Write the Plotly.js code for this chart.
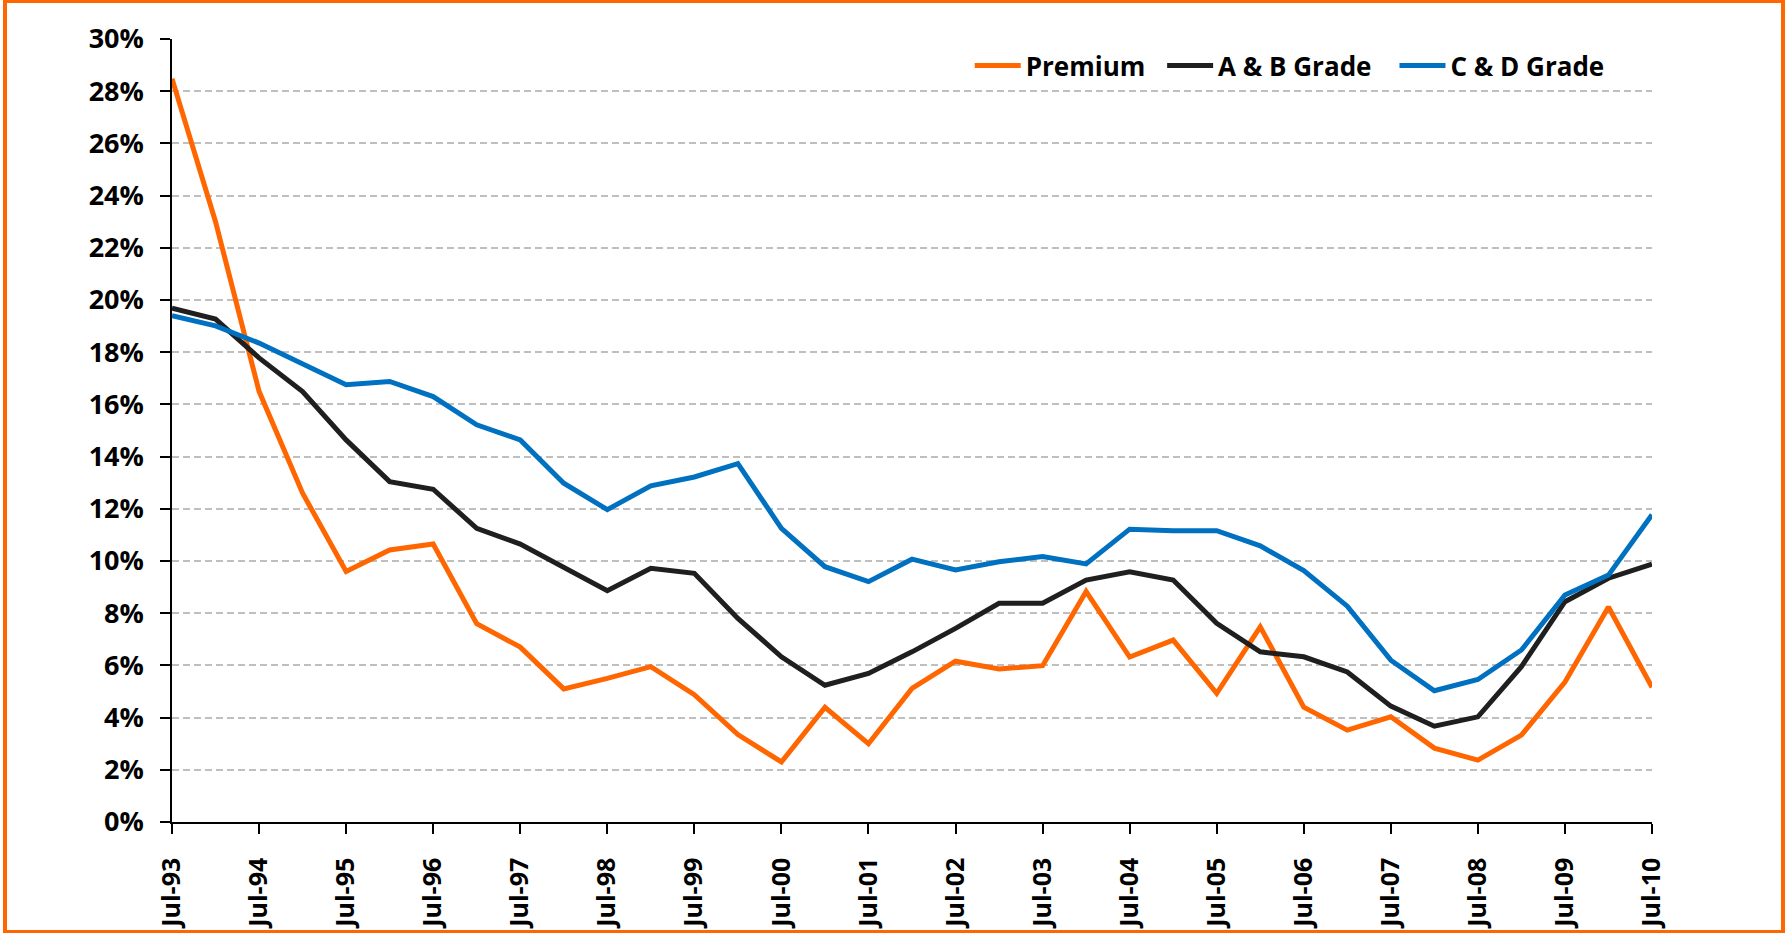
<!DOCTYPE html>
<html>
<head>
<meta charset="utf-8">
<script src="https://cdn.plot.ly/plotly-3.0.1.min.js"></script>
<style>
  html, body { margin: 0; padding: 0; background: #ffffff; }
  #chart { width: 1789px; height: 933px; }
  #frame { position: absolute; left: 3px; top: -1px; width: 1774px; height: 927px; border: 4px solid #FF6600; pointer-events: none; }
</style>
</head>
<body>
<div id="chart"></div>
<div id="frame"></div>
<script>
const categories = ["Jul-93","Jan-94","Jul-94","Jan-95","Jul-95","Jan-96","Jul-96","Jan-97","Jul-97","Jan-98",
  "Jul-98","Jan-99","Jul-99","Jan-00","Jul-00","Jan-01","Jul-01","Jan-02","Jul-02","Jan-03",
  "Jul-03","Jan-04","Jul-04","Jan-05","Jul-05","Jan-06","Jul-06","Jan-07","Jul-07","Jan-08",
  "Jul-08","Jan-09","Jul-09","Jan-10","Jul-10"];
const tickLabels = ["Jul-93","Jul-94","Jul-95","Jul-96","Jul-97","Jul-98","Jul-99","Jul-00","Jul-01",
  "Jul-02","Jul-03","Jul-04","Jul-05","Jul-06","Jul-07","Jul-08","Jul-09","Jul-10"];

const premium = [28.48, 23.0, 16.5, 12.6, 9.6, 10.42, 10.65, 7.6, 6.7, 5.1,
  5.5, 5.95, 4.88, 3.35, 2.3, 4.39, 3.0, 5.12, 6.16, 5.86,
  5.99, 8.83, 6.32, 6.97, 4.93, 7.48, 4.4, 3.52, 4.03, 2.83,
  2.37, 3.33, 5.36, 8.24, 5.16];
const gradeAB = [19.69, 19.27, 17.78, 16.49, 14.64, 13.04, 12.75, 11.25, 10.65, 9.77,
  8.86, 9.72, 9.53, 7.80, 6.33, 5.24, 5.69, 6.52, 7.42, 8.38,
  8.38, 9.27, 9.59, 9.27, 7.61, 6.52, 6.33, 5.75, 4.44, 3.67,
  4.03, 5.95, 8.44, 9.34, 9.88];
const gradeCD = [19.40, 19.01, 18.35, 17.54, 16.75, 16.88, 16.30, 15.22, 14.64, 12.98,
  11.97, 12.88, 13.22, 13.73, 11.25, 9.78, 9.21, 10.07, 9.66, 9.97,
  10.17, 9.89, 11.22, 11.16, 11.16, 10.58, 9.63, 8.27, 6.20, 5.03,
  5.46, 6.59, 8.70, 9.46, 11.77];

const seriesNames = ["Premium", "A & B Grade", "C & D Grade"];
const seriesColors = ["#FF6600", "#1F1F1F", "#0070C0"];
const seriesData = [premium, gradeAB, gradeCD];
const legendIds = ["legend", "legend2", "legend3"];
const legendX = [0.539, 0.669, 0.826];

const legendFont = {family: "Open Sans, sans-serif", size: 26, color: "#000000", weight: 700};

const traces = seriesData.map((vals, i) => ({
  type: "scatter",
  mode: "lines",
  name: seriesNames[i],
  x: categories,
  y: vals,
  legend: legendIds[i],
  line: {color: seriesColors[i], width: 5},
  hoverinfo: "x+y+name"
}));

function makeLegend(x) {
  return {
    orientation: "h",
    x: x, xanchor: "left",
    y: 0.966, yanchor: "middle",
    font: legendFont,
    bgcolor: "rgba(0,0,0,0)",
    itemwidth: 46
  };
}

const layout = {
  width: 1789,
  height: 933,
  paper_bgcolor: "#ffffff",
  plot_bgcolor: "#ffffff",
  margin: {l: 172, r: 137, t: 39, b: 111, pad: 0},
  font: {family: "Open Sans, sans-serif", size: 26, color: "#000000", weight: 700},
  showlegend: true,
  legend: makeLegend(legendX[0]),
  legend2: makeLegend(legendX[1]),
  legend3: makeLegend(legendX[2]),
  xaxis: {
    type: "category",
    range: [0, categories.length - 1],
    tickmode: "array",
    tickvals: tickLabels,
    ticktext: tickLabels,
    tickangle: -90,
    ticks: "outside",
    ticklen: 10,
    tickwidth: 1.5,
    tickcolor: "#000000",
    showline: true,
    linecolor: "#000000",
    linewidth: 1.5,
    showgrid: false,
    zeroline: false,
    ticklabelstandoff: 14,
    tickfont: {family: "Open Sans, sans-serif", size: 25, color: "#000000", weight: 700},
    fixedrange: true
  },
  yaxis: {
    range: [0, 30],
    tickmode: "linear",
    tick0: 0,
    dtick: 2,
    ticksuffix: "%",
    ticks: "outside",
    ticklen: 10,
    tickwidth: 1.5,
    tickcolor: "#000000",
    showline: true,
    linecolor: "#000000",
    linewidth: 1.5,
    showgrid: true,
    gridcolor: "#BFBFBF",
    gridwidth: 1.5,
    griddash: "7px,4px",
    zeroline: false,
    ticklabelstandoff: 11,
    tickfont: {family: "Open Sans, sans-serif", size: 27, color: "#000000", weight: 700},
    fixedrange: true
  }
};

Plotly.newPlot("chart", traces, layout, {displayModeBar: false, responsive: false});
</script>
</body>
</html>
